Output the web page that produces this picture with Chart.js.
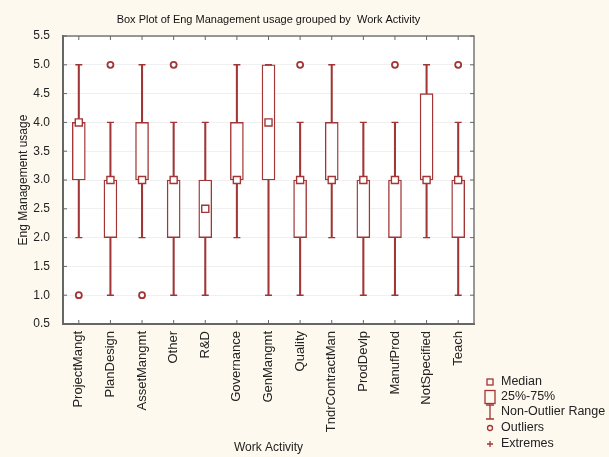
<!DOCTYPE html>
<html><head><meta charset="utf-8">
<script src="https://cdn.jsdelivr.net/npm/chart.js@4.4.1/dist/chart.umd.min.js"></script>
<style>html,body{margin:0;padding:0;background:#fef9ef;}canvas{display:block}</style>
</head><body>
<canvas id="c" width="609" height="457"></canvas>
<script>
const categories = ['ProjectMangt','PlanDesign','AssetMangmt','Other','R&D','Governance','GenMangmt','Quality','TndrContractMan','ProdDevlp','ManufProd','NotSpecified','Teach'];
const whiskerLow  = [2, 1, 2, 1, 1, 2, 1, 1, 2, 1, 1, 2, 1];
const q1          = [3, 2, 3, 2, 2, 3, 3, 2, 3, 2, 2, 3, 2];
const medians     = [4, 3, 3, 3, 2.5, 3, 4, 3, 3, 3, 3, 3, 3];
const q3          = [4, 3, 4, 3, 3, 4, 5, 3, 4, 3, 3, 4.5, 3];
const whiskerHigh = [5, 4, 5, 4, 4, 5, 5, 4, 5, 4, 4, 5, 4];
const outlierCats   = ['ProjectMangt','PlanDesign','AssetMangmt','Other','Quality','ManufProd','Teach'];
const outlierValues = [1, 5, 1, 5, 5, 5, 5];
const yMin = 0.5, yMax = 5.5, yStep = 0.5;
const titleText = 'Box Plot of Eng Management usage grouped by  Work Activity';
const yTitle = 'Eng Management usage';
const xTitle = 'Work Activity';
const legendItems = ['Median','25%-75%','Non-Outlier Range','Outliers','Extremes'];

const RED = '#a23535';
const FONT = "'Liberation Sans', Arial, sans-serif";

const lowSeg = categories.map((c,i)=>[whiskerLow[i], q1[i]]);
const highSeg = categories.map((c,i)=>[q3[i], whiskerHigh[i]]);
const boxes = categories.map((c,i)=>[q1[i], q3[i]]);
const outliers = outlierCats.map((c,i)=>({x:c, y:outlierValues[i]}));

const decor = {
  id:'decor',
  beforeDraw(chart){
    const {ctx, chartArea:a} = chart;
    ctx.save();
    ctx.fillStyle = '#fef9ef';
    ctx.fillRect(0,0,chart.width,chart.height);
    ctx.fillStyle = '#ffffff';
    ctx.fillRect(a.left,a.top,a.right-a.left,a.bottom-a.top);
    ctx.restore();
  },
  afterDraw(chart){
    const {ctx, chartArea:a, scales:{x,y}} = chart;
    ctx.save();
    ctx.strokeStyle = '#777';
    ctx.lineWidth = 1.5;
    ctx.beginPath();
    ctx.moveTo(a.left, a.top); ctx.lineTo(a.right, a.top); ctx.lineTo(a.right, a.bottom);
    ctx.stroke();
    ctx.strokeStyle = '#666';
    ctx.lineWidth = 1;
    ctx.beginPath();
    y.ticks.forEach((t,i)=>{
      const py = y.getPixelForTick(i);
      ctx.moveTo(a.left, py); ctx.lineTo(a.left+4, py);
      ctx.moveTo(a.right, py); ctx.lineTo(a.right-4, py);
    });
    x.ticks.forEach((t,i)=>{
      const px = x.getPixelForTick(i);
      ctx.moveTo(px, a.top); ctx.lineTo(px, a.top+4);
      ctx.moveTo(px, a.bottom); ctx.lineTo(px, a.bottom-4);
    });
    ctx.stroke();
    ctx.fillStyle = '#111';
    ctx.font = '11px ' + FONT;
    ctx.textAlign = 'center';
    ctx.textBaseline = 'middle';
    ctx.fillText(titleText, (a.left+a.right)/2, 20);
    const lx = 490, tx = 501;
    const rows = [382, 397, 412, 428, 444];
    ctx.strokeStyle = RED;
    ctx.lineWidth = 1.3;
    ctx.strokeRect(lx-3, rows[0]-3, 6, 6);
    ctx.strokeRect(lx-5, rows[1]-6.5, 10, 13);
    ctx.beginPath();
    ctx.moveTo(lx, rows[2]-7); ctx.lineTo(lx, rows[2]+7);
    ctx.moveTo(lx-4, rows[2]-7); ctx.lineTo(lx+4, rows[2]-7);
    ctx.moveTo(lx-4, rows[2]+7); ctx.lineTo(lx+4, rows[2]+7);
    ctx.stroke();
    ctx.beginPath();
    ctx.arc(lx, rows[3], 2.5, 0, Math.PI*2);
    ctx.stroke();
    ctx.beginPath();
    ctx.moveTo(lx-3, rows[4]); ctx.lineTo(lx+3, rows[4]);
    ctx.moveTo(lx, rows[4]-3); ctx.lineTo(lx, rows[4]+3);
    ctx.stroke();
    ctx.fillStyle = '#222';
    ctx.font = '12.5px ' + FONT;
    ctx.textAlign = 'left';
    legendItems.forEach((t,i)=>ctx.fillText(t, tx, rows[i]));
    ctx.restore();
  }
};

new Chart(document.getElementById('c'), {
  type:'bar',
  data:{
    labels: categories,
    datasets:[
      {type:'line', label:'Median', data: medians, showLine:false, pointStyle:'rect', pointRadius:5, pointBorderWidth:1.4, pointBackgroundColor:'#ffffff', pointBorderColor:RED, order:0},
      {type:'line', label:'Outliers', data: outliers, showLine:false, pointStyle:'circle', pointRadius:3, pointBorderWidth:1.8, pointBackgroundColor:'#ffffff', pointBorderColor:RED, order:0},
      {type:'line', label:'CapHigh', data: whiskerHigh, showLine:false, pointStyle:'line', pointRadius:3.5, pointBorderWidth:1.4, pointBorderColor:RED, order:1},
      {type:'line', label:'CapLow', data: whiskerLow, showLine:false, pointStyle:'line', pointRadius:3.5, pointBorderWidth:1.4, pointBorderColor:RED, order:1},
      {label:'25%-75%', data: boxes, grouped:false, barThickness:13, backgroundColor:'#ffffff', borderColor:RED, borderWidth:1.4, borderSkipped:false, order:2},
      {label:'WhiskerLow', data: lowSeg, grouped:false, barThickness:1.4, backgroundColor:RED, borderWidth:0, order:3},
      {label:'WhiskerHigh', data: highSeg, grouped:false, barThickness:1.4, backgroundColor:RED, borderWidth:0, order:3}
    ]
  },
  options:{
    responsive:false,
    animation:false,
    devicePixelRatio:1,
    events:[],
    layout:{padding:{left:0, right:135, top:36, bottom:0}},
    plugins:{legend:{display:false}, tooltip:{enabled:false}, title:{display:false}},
    scales:{
      x:{
        type:'category',
        offset:true,
        grid:{display:false, drawTicks:false},
        border:{display:true, color:'#666', width:2},
        ticks:{maxRotation:90, minRotation:90, autoSkip:false, padding:7, color:'#222', font:{family:FONT, size:13}},
        title:{display:true, text:xTitle, color:'#222', font:{family:FONT, size:12}, padding:{top:0,bottom:2}},
        afterFit(s){ s.height = 133; }
      },
      y:{
        min:yMin, max:yMax,
        grid:{color:'#f0f0f0', drawTicks:false},
        border:{display:true, color:'#666', width:2},
        ticks:{stepSize:yStep, padding:13, color:'#222', font:{family:FONT, size:12}, callback:v=>Number(v).toFixed(1)},
        title:{display:true, text:yTitle, color:'#222', font:{family:FONT, size:12}, padding:{top:16,bottom:0}},
        afterFit(s){ s.width = 63; }
      }
    }
  },
  plugins:[decor]
});
</script>
</body></html>
